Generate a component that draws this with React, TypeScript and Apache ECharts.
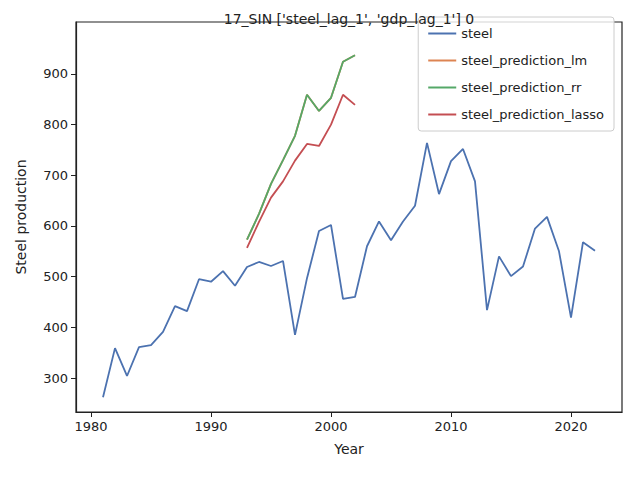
import { useEffect, useRef } from "react";
import * as echarts from "echarts";

const years = Array.from({ length: 42 }, (_, i) => 1981 + i);
const steel = [
  262, 359, 304, 361, 365, 391, 442, 432, 495, 490, 511, 482, 519, 529, 521,
  531, 385, 497, 590, 602, 456, 460, 560, 609, 572, 609, 640, 764, 663, 728,
  752, 688, 434, 540, 501, 520, 595, 618, 550, 419, 568, 551,
];
const predYears = [1993, 1994, 1995, 1996, 1997, 1998, 1999, 2000, 2001, 2002];
const predLm = [573, 624, 683, 730, 778, 859, 827, 853, 924, 937];
const predRr = [573, 624, 683, 730, 778, 859, 827, 853, 924, 937];
const predLasso = [557, 608, 656, 688, 729, 762, 758, 800, 859, 839];
const xTicks = [1980, 1990, 2000, 2010, 2020];
const yTicks = [300, 400, 500, 600, 700, 800, 900];

const zip = (xs: number[], ys: number[]) => xs.map((x, i) => [x, ys[i]]);
const font = "DejaVu Sans";

export default function App() {
  const ref = useRef<HTMLDivElement>(null);

  useEffect(() => {
    if (!ref.current) return;
    const chart = echarts.init(ref.current, null, { renderer: "svg" });
    const axisCommon = {
      axisLine: { show: true, onZero: false, lineStyle: { color: "#222", width: 1.2 } },
      axisTick: { show: true, length: 5, lineStyle: { color: "#222" } },
      axisLabel: { color: "#222", fontSize: 13, fontFamily: font, formatter: (v: number) => String(v) },
      splitLine: { show: false },
      nameTextStyle: { color: "#222", fontSize: 14, fontFamily: font },
    };
    const line = (name: string, data: number[][], color: string) => ({
      name,
      type: "line",
      data,
      showSymbol: false,
      lineStyle: { color, width: 1.8 },
      itemStyle: { color },
    });
    chart.setOption({
      animation: false,
      title: {
        text: "17_SIN ['steel_lag_1', 'gdp_lag_1'] 0",
        left: 349,
        textAlign: "center",
        top: 12,
        padding: 0,
        textStyle: { fontSize: 14, fontWeight: "normal", color: "#222", fontFamily: font },
      },
      legend: {
        orient: "vertical",
        right: 26,
        top: 17,
        itemWidth: 28,
        itemHeight: 2,
        itemGap: 14,
        icon: "rect",
        padding: [10, 10],
        borderColor: "#ccc",
        borderWidth: 1,
        borderRadius: 3,
        backgroundColor: "rgba(255,255,255,0.8)",
        textStyle: { fontSize: 13, color: "#222", fontFamily: font },
        data: ["steel", "steel_prediction_lm", "steel_prediction_rr", "steel_prediction_lasso"],
      },
      grid: { left: 76, right: 18, top: 22, bottom: 68, show: true, borderColor: "#222", borderWidth: 1.2 },
      xAxis: {
        ...axisCommon,
        type: "value",
        min: 1978.75,
        max: 2024.25,
        name: "Year",
        nameLocation: "middle",
        nameGap: 30,
        axisTick: { ...axisCommon.axisTick, customValues: xTicks },
        axisLabel: { ...axisCommon.axisLabel, customValues: xTicks },
      },
      yAxis: {
        ...axisCommon,
        type: "value",
        min: 232.9,
        max: 1002.6,
        name: "Steel production",
        nameLocation: "middle",
        nameGap: 48,
        axisTick: { ...axisCommon.axisTick, customValues: yTicks },
        axisLabel: { ...axisCommon.axisLabel, customValues: yTicks },
      },
      series: [
        line("steel", zip(years, steel), "#4c72b0"),
        line("steel_prediction_lm", zip(predYears, predLm), "#dd8452"),
        line("steel_prediction_rr", zip(predYears, predRr), "#55a868"),
        line("steel_prediction_lasso", zip(predYears, predLasso), "#c44e52"),
      ],
    });
    return () => chart.dispose();
  }, []);

  return <div ref={ref} style={{ width: 640, height: 480, margin: -8 }} />;
}
